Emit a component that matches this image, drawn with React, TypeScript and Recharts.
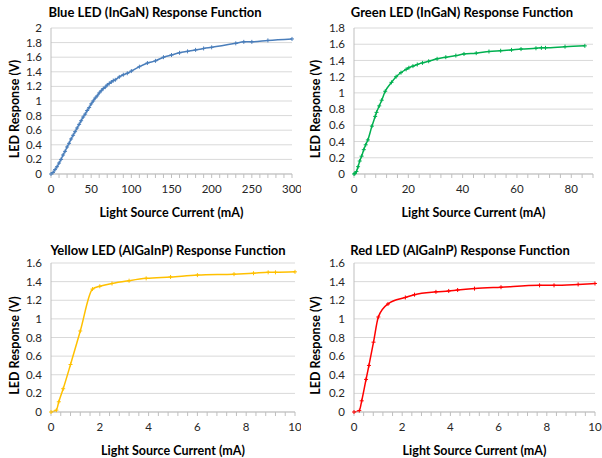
import React from "react";
import { LineChart, Line, XAxis, YAxis, CartesianGrid, Label } from "recharts";

// Blue LED (InGaN): [current mA, response V]
const blueCurrent = [0, 2.5, 5, 7.5, 10, 12.5, 15, 17.5, 20, 22.5, 25, 27.5, 30, 32.5, 35, 37.5, 40, 42.5, 45, 47.5, 50, 52.5, 55, 57.5, 60, 62.5, 65, 67.5, 70, 72.5, 75, 77.5, 80, 85, 90, 95, 100, 110, 120, 130, 140, 150, 160, 170, 180, 190, 200, 230, 240, 250, 270, 300];
const blueResponse = [0, 0.02, 0.06, 0.1, 0.15, 0.2, 0.26, 0.31, 0.37, 0.42, 0.48, 0.53, 0.58, 0.63, 0.68, 0.73, 0.78, 0.82, 0.87, 0.91, 0.96, 1.0, 1.04, 1.07, 1.11, 1.14, 1.17, 1.19, 1.22, 1.24, 1.26, 1.28, 1.29, 1.33, 1.36, 1.38, 1.41, 1.47, 1.52, 1.55, 1.6, 1.63, 1.66, 1.68, 1.7, 1.72, 1.735, 1.79, 1.81, 1.81, 1.83, 1.85];

// Green LED (InGaN)
const greenCurrent = [0, 0.3, 0.9, 1.5, 2.1, 2.8, 3.6, 4.3, 5.1, 6.6, 7.8, 8.3, 9.3, 10.2, 11.5, 13.8, 15.5, 17.3, 19.2, 20.2, 21.7, 23.3, 25.2, 27.5, 30.6, 33.8, 37.5, 40.5, 45, 49.7, 54, 58, 61.5, 67, 69, 70.5, 77.7, 85];
const greenResponse = [0, 0.005, 0.03, 0.09, 0.16, 0.22, 0.3, 0.36, 0.42, 0.59, 0.71, 0.76, 0.84, 0.91, 1.02, 1.13, 1.2, 1.25, 1.29, 1.31, 1.33, 1.35, 1.37, 1.39, 1.42, 1.44, 1.46, 1.48, 1.49, 1.51, 1.52, 1.53, 1.54, 1.55, 1.555, 1.555, 1.57, 1.58];

// Yellow LED (AlGaInP)
const yellowCurrent = [0, 0.22, 0.32, 0.5, 0.8, 1.2, 1.7, 2.0, 2.5, 3.2, 3.9, 4.9, 6.0, 7.5, 8.3, 8.9, 9.2, 10];
const yellowResponse = [0, 0.02, 0.11, 0.25, 0.51, 0.87, 1.32, 1.35, 1.38, 1.41, 1.435, 1.45, 1.47, 1.48, 1.49, 1.5, 1.5, 1.505];

// Red LED (AlGaInP)
const redCurrent = [0, 0.22, 0.32, 0.5, 0.62, 0.81, 1.01, 1.41, 2.13, 2.51, 3.4, 3.93, 4.3, 5.0, 6.1, 7.7, 8.3, 9.3, 10];
const redResponse = [0, 0.015, 0.12, 0.35, 0.5, 0.75, 1.02, 1.16, 1.23, 1.26, 1.29, 1.3, 1.31, 1.325, 1.34, 1.36, 1.36, 1.37, 1.38];

const yTicks2 = [0, 0.2, 0.4, 0.6, 0.8, 1, 1.2, 1.4, 1.6, 1.8, 2];
const yTicks18 = [0, 0.2, 0.4, 0.6, 0.8, 1, 1.2, 1.4, 1.6, 1.8];
const yTicks16 = [0, 0.2, 0.4, 0.6, 0.8, 1, 1.2, 1.4, 1.6];

const blueXLabels = [0, 50, 100, 150, 200, 250, 300];
const greenXLabels = [0, 20, 40, 60, 80];
const smallXLabels = [0, 2, 4, 6, 8, 10];

const FONT = "Lato, 'Liberation Sans', sans-serif";

// minor tick marks like Excel (major / 5)
function minorTicks(max: number, step: number) {
  const out: number[] = [];
  const n = Math.round(max / step);
  for (let i = 0; i <= n; i++) out.push(Number((i * step).toFixed(4)));
  return out;
}

function zip(xs: number[], ys: number[]) {
  return xs.map((x, i) => ({ x, y: ys[i] }));
}

interface PanelProps {
  title: string;
  color: string;
  xs: number[];
  ys: number[];
  xMax: number;
  xStep: number;
  xLabels: number[];
  yMax: number;
  yTicks: number[];
  left: number;
  top: number;
  plotLeft: number;
  plotRight: number;
  plotTop: number;
  plotBottom: number;
  titleY: number;
  titleX: number;
}

function Panel(p: PanelProps) {
  const W = 301;
  const H = 229;
  const data = zip(p.xs, p.ys);

  const renderDot = (props: any) => {
    const { cx, cy, index } = props;
    if (cx == null || cy == null) return <g key={index} />;
    return (
      <path
        key={index}
        d={`M${cx - 2},${cy}h4M${cx},${cy - 2}v4`}
        stroke={p.color}
        strokeWidth={1}
        fill="none"
      />
    );
  };

  return (
    <div style={{ position: "absolute", left: p.left, top: p.top, width: W, height: H }}>
      <div
        style={{
          position: "absolute",
          left: p.titleX - 150,
          width: 300,
          top: p.titleY - 9,
          textAlign: "center",
          fontFamily: FONT,
          fontWeight: 700,
          fontSize: 13,
          color: "#000",
          whiteSpace: "nowrap",
        }}
      >
        {p.title}
      </div>
      <LineChart
        width={W}
        height={H}
        data={data}
        style={{ overflow: "visible" }}
        margin={{ top: p.plotTop, right: W - p.plotRight, left: 0, bottom: 0 }}
      >
        <CartesianGrid vertical={false} stroke="#d9d9d9" strokeWidth={1} />
        <XAxis
          dataKey="x"
          type="number"
          domain={[0, p.xMax]}
          ticks={minorTicks(p.xMax, p.xStep)}
          interval={0}
          tickFormatter={(v: number) => (p.xLabels.some((l) => Math.abs(l - v) < 1e-6) ? String(v) : "")}
          height={H - p.plotBottom}
          stroke="#bfbfbf"
          tickSize={4}
          tickMargin={7}
          tick={{ fill: "#262626", fontSize: 11.5, fontFamily: FONT }}
        >
          <Label
            content={(lp: any) => {
              const vb = lp.viewBox || {};
              return (
                <text
                  x={vb.x + vb.width / 2}
                  y={vb.y + 43}
                  textAnchor="middle"
                  fontFamily={FONT}
                  fontWeight={700}
                  fontSize={12.5}
                  fill="#000"
                >
                  Light Source Current (mA)
                </text>
              );
            }}
          />
        </XAxis>
        <YAxis
          type="number"
          domain={[0, p.yMax]}
          ticks={p.yTicks}
          interval={0}
          width={p.plotLeft}
          stroke="#bfbfbf"
          tickLine={false}
          tickSize={0}
          tickMargin={9}
          tick={{ fill: "#262626", fontSize: 11.5, fontFamily: FONT }}
        >
          <Label
            content={(lp: any) => {
              const vb = lp.viewBox || {};
              const cx = 19;
              const cy = vb.y + vb.height / 2 + 8;
              return (
                <text
                  x={cx}
                  y={cy}
                  transform={`rotate(-90 ${cx} ${cy})`}
                  textAnchor="middle"
                  fontFamily={FONT}
                  fontWeight={700}
                  fontSize={12.5}
                  fill="#000"
                >
                  LED Response (V)
                </text>
              );
            }}
          />
        </YAxis>
        <Line
          type="monotone"
          dataKey="y"
          stroke={p.color}
          strokeWidth={1.5}
          dot={renderDot}
          activeDot={false}
          isAnimationActive={false}
        />
      </LineChart>
    </div>
  );
}

export default function App() {
  return (
    <div style={{ position: "absolute", left: 0, top: 0, width: 602, height: 458, background: "#fff" }}>
      <Panel
        title="Blue LED (InGaN) Response Function"
        color="#4a7ebb"
        xs={blueCurrent}
        ys={blueResponse}
        xMax={300}
        xStep={10}
        xLabels={blueXLabels}
        yMax={2}
        yTicks={yTicks2}
        left={0}
        top={0}
        plotLeft={51}
        plotRight={292}
        plotTop={28}
        plotBottom={174}
        titleX={155}
        titleY={13}
      />
      <Panel
        title="Green LED (InGaN) Response Function"
        color="#00b050"
        xs={greenCurrent}
        ys={greenResponse}
        xMax={88}
        xStep={4}
        xLabels={greenXLabels}
        yMax={1.8}
        yTicks={yTicks18}
        left={301}
        top={0}
        plotLeft={53}
        plotRight={292}
        plotTop={28}
        plotBottom={174}
        titleX={161}
        titleY={13}
      />
      <Panel
        title="Yellow LED (AlGaInP) Response Function"
        color="#ffc000"
        xs={yellowCurrent}
        ys={yellowResponse}
        xMax={10}
        xStep={0.4}
        xLabels={smallXLabels}
        yMax={1.6}
        yTicks={yTicks16}
        left={0}
        top={229}
        plotLeft={51}
        plotRight={295}
        plotTop={34}
        plotBottom={183}
        titleX={168}
        titleY={22}
      />
      <Panel
        title="Red LED (AlGaInP) Response Function"
        color="#ff0000"
        xs={redCurrent}
        ys={redResponse}
        xMax={10}
        xStep={0.4}
        xLabels={smallXLabels}
        yMax={1.6}
        yTicks={yTicks16}
        left={301}
        top={229}
        plotLeft={53}
        plotRight={294}
        plotTop={34}
        plotBottom={183}
        titleX={159}
        titleY={22}
      />
    </div>
  );
}
